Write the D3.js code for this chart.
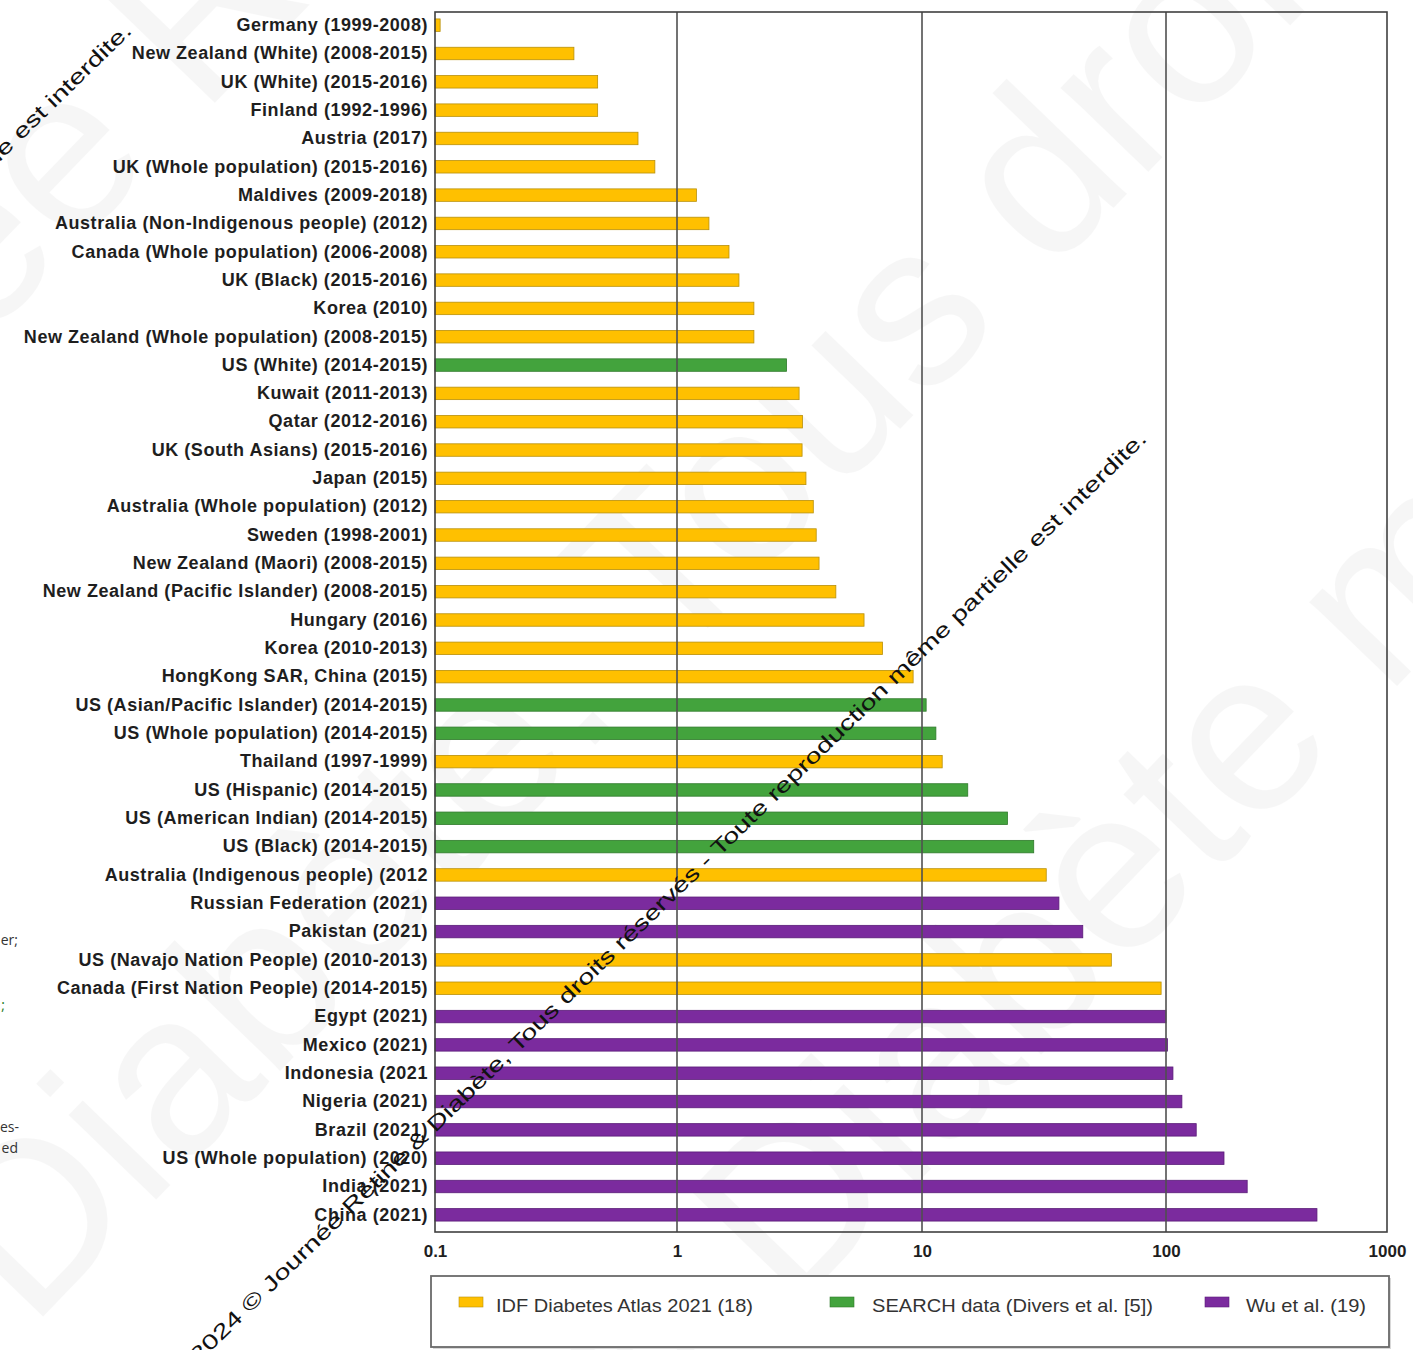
<!DOCTYPE html>
<html>
<head>
<meta charset="utf-8">
<script src="https://cdn.jsdelivr.net/npm/d3@7"></script>
<style>
  body { margin: 0; background: #fff; }
  svg { display: block; }
</style>
</head>
<body>
<svg id="chart" width="1413" height="1350"></svg>
<script>
// Incidence of type 2 diabetes in children and adolescents, per population (log scale)
const categories = [
  "Germany (1999-2008)",
  "New Zealand (White) (2008-2015)",
  "UK (White) (2015-2016)",
  "Finland (1992-1996)",
  "Austria (2017)",
  "UK (Whole population) (2015-2016)",
  "Maldives (2009-2018)",
  "Australia (Non-Indigenous people) (2012)",
  "Canada (Whole population) (2006-2008)",
  "UK (Black) (2015-2016)",
  "Korea (2010)",
  "New Zealand (Whole population) (2008-2015)",
  "US (White) (2014-2015)",
  "Kuwait (2011-2013)",
  "Qatar (2012-2016)",
  "UK (South Asians) (2015-2016)",
  "Japan (2015)",
  "Australia (Whole population) (2012)",
  "Sweden (1998-2001)",
  "New Zealand (Maori) (2008-2015)",
  "New Zealand (Pacific Islander) (2008-2015)",
  "Hungary (2016)",
  "Korea (2010-2013)",
  "HongKong SAR, China (2015)",
  "US (Asian/Pacific Islander) (2014-2015)",
  "US (Whole population) (2014-2015)",
  "Thailand (1997-1999)",
  "US (Hispanic) (2014-2015)",
  "US (American Indian) (2014-2015)",
  "US (Black) (2014-2015)",
  "Australia (Indigenous people) (2012",
  "Russian Federation (2021)",
  "Pakistan (2021)",
  "US (Navajo Nation People) (2010-2013)",
  "Canada (First Nation People) (2014-2015)",
  "Egypt (2021)",
  "Mexico (2021)",
  "Indonesia (2021",
  "Nigeria (2021)",
  "Brazil (2021)",
  "US (Whole population) (2020)",
  "India (2021)",
  "China (2021)"
];

const values = [
  0.105, 0.375, 0.47, 0.47, 0.69, 0.81, 1.2, 1.35, 1.63, 1.79,
  2.06, 2.06, 2.8, 3.15, 3.25, 3.24, 3.36, 3.6, 3.7, 3.8,
  4.45, 5.8, 6.9, 9.2, 10.4, 11.4, 12.1, 15.4, 22.4, 28.7,
  32.3, 36.4, 45.6, 59.7, 95.5, 100, 101.5, 107.5, 118, 137,
  183, 233, 482
];

// 0 = IDF Diabetes Atlas, 1 = SEARCH, 2 = Wu et al.
const sources = [
  0, 0, 0, 0, 0, 0, 0, 0, 0, 0,
  0, 0, 1, 0, 0, 0, 0, 0, 0, 0,
  0, 0, 0, 0, 1, 1, 0, 1, 1, 1,
  0, 2, 2, 0, 0, 2, 2, 2, 2, 2,
  2, 2, 2
];

const seriesNames = ["IDF Diabetes Atlas 2021 (18)", "SEARCH data (Divers et al. [5])", "Wu et al. (19)"];
const seriesFill = ["#FFC000", "#43A33D", "#7B2B9E"];
const seriesStroke = ["#B8900A", "#2F7A2B", "#5A1C78"];

const tickValues = [0.1, 1, 10, 100, 1000];
const tickLabels = ["0.1", "1", "10", "100", "1000"];

const svg = d3.select("#chart");
const plot = { left: 435, top: 12, right: 1387, bottom: 1232 };

// Faint background lettering
const wm = svg.append("g").attr("fill", "#7a7a7a").attr("opacity", 0.06)
  .attr("font-family", "Liberation Sans, Arial, sans-serif").attr("font-size", 230);
wm.append("text").attr("transform", "translate(-420,760) rotate(-46)").text("Journée Rétine &");
wm.append("text").attr("transform", "translate(30,1330) rotate(-46)").text("Diabète. Tous droits");
wm.append("text").attr("transform", "translate(640,1470) rotate(-46)").text("& Diabète même");

// Log x scale with decade stops
const x = d3.scaleLog()
  .domain(tickValues)
  .range([435, 677, 922, 1166, 1387]);

const y = d3.scaleBand()
  .domain(categories)
  .range([11, 1229])
  .paddingInner(0.56)
  .paddingOuter(0.28);

const rows = categories.map((c, i) => ({ c, v: values[i], s: sources[i] }));

// Bars
svg.append("g").selectAll("rect")
  .data(rows)
  .join("rect")
  .attr("x", x(0.1))
  .attr("y", d => y(d.c))
  .attr("width", d => x(d.v) - x(0.1))
  .attr("height", y.bandwidth())
  .attr("fill", d => seriesFill[d.s])
  .attr("stroke", d => seriesStroke[d.s])
  .attr("stroke-width", 0.8);

// Vertical gridlines at decades
svg.append("g").selectAll("line")
  .data(tickValues.slice(1, -1))
  .join("line")
  .attr("x1", d => x(d)).attr("x2", d => x(d))
  .attr("y1", plot.top).attr("y2", plot.bottom)
  .attr("stroke", "#505050")
  .attr("stroke-width", 1.6);

// Plot frame
svg.append("rect")
  .attr("x", plot.left).attr("y", plot.top)
  .attr("width", plot.right - plot.left).attr("height", plot.bottom - plot.top)
  .attr("fill", "none").attr("stroke", "#404040").attr("stroke-width", 1.6);

// Category axis
const yAxis = svg.append("g")
  .attr("transform", `translate(${plot.left},0)`)
  .call(d3.axisLeft(y).tickSize(0).tickPadding(7));
yAxis.select(".domain").remove();
yAxis.selectAll("text")
  .attr("font-family", "Liberation Sans, Arial, sans-serif")
  .attr("font-weight", "bold")
  .attr("font-size", 18)
  .attr("letter-spacing", 0.55)
  .attr("fill", "#1e1e1e");

// Value axis
const xAxis = svg.append("g")
  .attr("transform", `translate(0,${plot.bottom})`)
  .call(d3.axisBottom(x).tickValues(tickValues)
    .tickFormat((d, i) => tickLabels[i]).tickSize(0).tickPadding(13));
xAxis.select(".domain").remove();
xAxis.selectAll("text")
  .attr("font-family", "Liberation Sans, Arial, sans-serif")
  .attr("font-weight", "bold")
  .attr("font-size", 17)
  .attr("fill", "#1e1e1e");

// Legend
const lg = svg.append("g");
lg.append("rect")
  .attr("x", 433).attr("y", 1278).attr("width", 958).attr("height", 71)
  .attr("fill", "#d8d8d8");
lg.append("rect")
  .attr("x", 431).attr("y", 1276).attr("width", 958).attr("height", 71)
  .attr("fill", "#fff").attr("stroke", "#6a6a6a").attr("stroke-width", 1.8);
const legendItems = [
  { sx: 459, tx: 496, w: 257 },
  { sx: 830, tx: 872, w: 281 },
  { sx: 1205, tx: 1246, w: 120 }
];
legendItems.forEach((it, i) => {
  lg.append("rect")
    .attr("x", it.sx).attr("y", 1297).attr("width", 24).attr("height", 10)
    .attr("fill", seriesFill[i]).attr("stroke", seriesStroke[i]).attr("stroke-width", 0.6);
  lg.append("text")
    .attr("x", it.tx).attr("y", 1312)
    .attr("font-family", "Liberation Sans, Arial, sans-serif")
    .attr("font-size", 19)
    .attr("fill", "#333")
    .attr("textLength", it.w)
    .attr("lengthAdjust", "spacingAndGlyphs")
    .text(seriesNames[i]);
});

// Copyright notice overlay
const notice = "2024 © Journée Rétine & Diabète, Tous droits réservés - Toute reproduction même partielle est interdite.";
const nt = svg.append("g")
  .attr("font-family", "Liberation Sans, Arial, sans-serif")
  .attr("font-size", 21)
  .attr("fill", "#111");
nt.append("text")
  .attr("transform", "translate(1148,440) rotate(-44.2)")
  .attr("text-anchor", "end")
  .attr("textLength", 1325)
  .attr("lengthAdjust", "spacingAndGlyphs")
  .text(notice);
nt.append("text")
  .attr("transform", "translate(133,32) rotate(-44.2)")
  .attr("text-anchor", "end")
  .attr("textLength", 1325)
  .attr("lengthAdjust", "spacingAndGlyphs")
  .text(notice);

// Edge text fragments from the surrounding page
const frag = svg.append("g")
  .attr("font-family", "Open Sans, Liberation Sans, sans-serif")
  .attr("font-size", 14)
  .attr("text-anchor", "end");
frag.append("text").attr("x", 18).attr("y", 945).attr("fill", "#333").text("er;");
frag.append("text").attr("x", 5).attr("y", 1010).attr("fill", "#1a7a1a").text(";");
frag.append("text").attr("x", 19).attr("y", 1132).attr("fill", "#333").text("es-");
frag.append("text").attr("x", 18).attr("y", 1153).attr("fill", "#333").text("ed");
</script>
</body>
</html>
